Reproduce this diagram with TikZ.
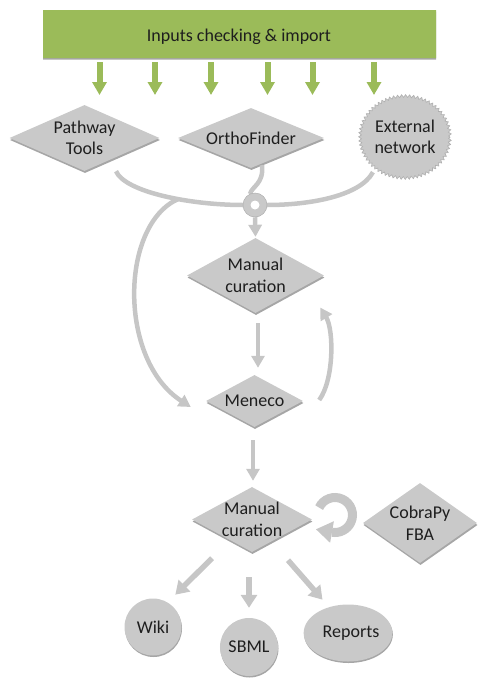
\documentclass[tikz,border=0pt]{standalone}
\usepackage{fontspec}
\setmainfont{Carlito}
\usetikzlibrary{shapes.geometric,shapes.misc,arrows.meta,shadows,decorations.pathmorphing,calc}
\definecolor{grn}{HTML}{9BBB59}
\definecolor{box}{HTML}{C9C9C9}
\definecolor{shd}{HTML}{A6A6A6}
\definecolor{lnk}{HTML}{C6C6C6}
\definecolor{lnkedge}{HTML}{AFAFAF}
\definecolor{txt}{HTML}{1E1E1E}
\begin{document}
\begin{tikzpicture}[x=1pt,y=-1pt,
  every node/.style={font=\fontsize{18}{21.5}\selectfont, text=txt, align=center, inner sep=0pt},
  dia/.style={diamond, inner sep=-15pt, fill=box,
    drop shadow={shadow xshift=0.5pt, shadow yshift=-2pt, fill=shd, opacity=1}},
  blob/.style={ellipse, fill=box,
    drop shadow={shadow xshift=0.5pt, shadow yshift=-1.5pt, fill=shd, opacity=1}},
  tube/.style={draw=lnk, line width=4.5pt},
  tubearrow/.style={tube, -{Triangle[width=13pt,length=12pt]}},
  blockarrow/.style={draw=lnk, line width=5.5pt, -{Triangle[width=16pt,length=13pt]}},
  garrow/.style={draw=grn, line width=6pt, -{Triangle[width=14pt,length=13pt]}},
  loopring/.style={draw=lnk, line width=9pt},
  loophead/.style={fill=lnk}
]
\useasboundingbox (0,0) rectangle (486,686);

% banner
\node[chamfered rectangle, chamfered rectangle corners={north west,north east},
  chamfered rectangle xsep=7pt, chamfered rectangle ysep=8pt,
  minimum width=393pt, minimum height=48pt, fill=grn,
  drop shadow={shadow xshift=0pt, shadow yshift=-1.5pt, fill=shd, opacity=1}]
  (banner) at (239.5,34) {};
\node (title) at (239,37) {Inputs checking \& import};

% green arrows
\foreach \x [count=\i] in {99.5,155,211,267.5,312.5,374}{
  \coordinate (gs\i) at (\x,62);
  \coordinate (ge\i) at (\x,95);
  \draw[garrow] (gs\i) -- (ge\i);
}

% top nodes
\node[dia, minimum width=150pt, minimum height=66pt] (pt) at (84.5,138) {Pathway\\Tools};
\node[dia, minimum width=146pt, minimum height=60pt] (of) at (251,138) {OrthoFinder};
\node[ellipse, minimum width=90pt, minimum height=82pt, fill=box, draw=lnkedge, line width=0.6pt,
  decorate, decoration={zigzag, segment length=4pt, amplitude=1.4pt}] (ext) at (405,137) {External\\network};

% junction ring
\coordinate (ringc) at (255,205);

% merging tubes
\draw[tube] ([shift={(31.5,0)}]pt.south) .. controls (125,192) and (190,205) .. (243,205) coordinate[pos=0.6] (br);
\draw[tube] ([shift={(0,6)}]ext.south west) .. controls (360,196) and (310,205) .. (267,205);
\draw[tube] ([shift={(11,-3)}]of.south) .. controls (264,184) and (252,186) .. (250,194);

\node[circle, minimum size=24pt, fill=box, draw=lnkedge, line width=0.5pt] (ring) at (ringc) {};
\node[circle, minimum size=9pt, fill=white] (hole) at (ring) {};

% middle nodes
\node[dia, minimum width=137pt, minimum height=75pt] (mc1) at (255.5,275.5) {Manual\\curation};
\node[dia, minimum width=97pt, minimum height=52pt] (men) at (254.5,401) {Meneco};

\draw[tubearrow] (ring.south) -- ([shift={(0,-1)}]mc1.north);
\draw[tubearrow] (br) .. controls (120,225) and (118,360) .. ([shift={(-15,6)}]men.west);
\draw[tubearrow] ([shift={(2.5,10)}]mc1.south) -- ([shift={(3.5,-7)}]men.north);
\draw[tubearrow] ([shift={(16,-1)}]men.east) .. controls (334,380) and (334,330) .. ([shift={(-4,32)}]mc1.east);

% lower part
\node[dia, minimum width=120pt, minimum height=65pt] (mc2) at (252,519.5) {Manual\\curation};
\node[dia, minimum width=114pt, minimum height=80pt] (cob) at (420,523) {CobraPy\\FBA};
\draw[tubearrow] ([shift={(-1.5,13)}]men.south) -- ([shift={(1,-6)}]mc2.north);

% circular arrow
\coordinate (loopc) at (335,515);
\draw[loopring] (loopc) ++(205:17.5) arc[start angle=205, end angle=460, radius=17.5];
\fill[loophead] (333.9,521.2) -- (316,529.3) -- (330.1,542.8) -- cycle;

\node[blob, minimum width=57pt, minimum height=57pt] (wiki) at (153,627) {Wiki};
\node[blob, minimum width=52pt, minimum height=58pt] (sbml) at (249,647) {SBML};
\node[blob, minimum width=82pt, minimum height=57pt] (rep) at (348,633) {\hspace*{6pt}Reports};

\draw[blockarrow] ([shift={(-40,6)}]mc2.south) -- ([shift={(2,-12)}]wiki.north east);
\draw[blockarrow] ([shift={(-3,25)}]mc2.south) -- ([shift={(0,-10)}]sbml.north);
\draw[blockarrow] ([shift={(36,8)}]mc2.south) -- ([shift={(6,-13)}]rep.north west);
\end{tikzpicture}
\end{document}
